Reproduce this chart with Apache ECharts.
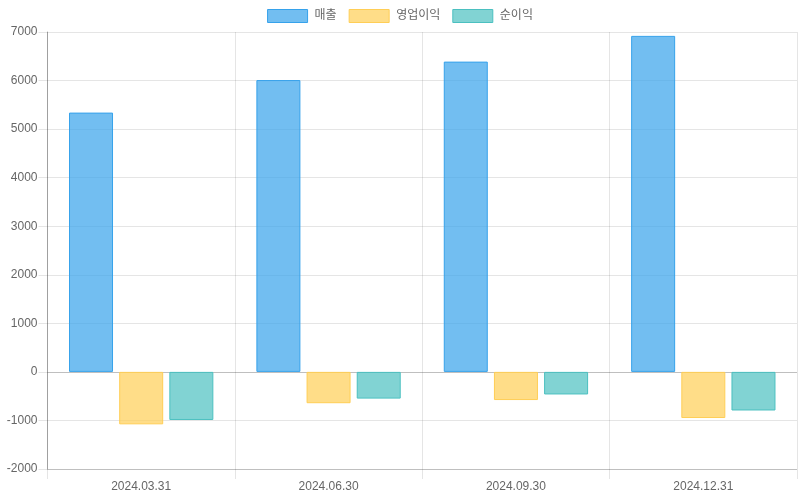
<!DOCTYPE html>
<html>
<head>
<meta charset="utf-8">
<script src="https://cdn.jsdelivr.net/npm/echarts@6/dist/echarts.min.js"></script>
<style>
    html, body { margin: 0; padding: 0; background: #fff; }
    #main { width: 800px; height: 500px; }
</style>
</head>
<body>
<div id="main"></div>
<script type="text/javascript">
    // 분기별 데이터
    var categories = ['2024.03.31', '2024.06.30', '2024.09.30', '2024.12.31'];
    var sales = [5340, 6010, 6390, 6920];
    var opProfit = [-1080, -645, -580, -950];
    var netProfit = [-990, -550, -465, -795];

    var seriesNames = ['매출', '영업이익', '순이익'];
    var fills = ['rgba(54,162,235,0.7)', 'rgba(255,206,86,0.7)', 'rgba(75,192,192,0.7)'];
    var borders = ['rgb(54,162,235)', 'rgb(255,206,86)', 'rgb(75,192,192)'];

    var font = '"Liberation Sans", "Noto Sans CJK KR", Arial, sans-serif';
    var myChart = echarts.init(document.getElementById('main'));

    function bar(i, data) {
        return {
            name: seriesNames[i],
            type: 'bar',
            data: data,
            barWidth: 44,
            barGap: '14%',
            itemStyle: { color: fills[i], borderColor: borders[i], borderWidth: 1 },
            emphasis: { disabled: true }
        };
    }

    // 0 과 -2000 선은 진하게
    var splitColors = ['rgba(0,0,0,0.25)', 'rgba(0,0,0,0.1)', 'rgba(0,0,0,0.25)'];
    for (var k = 0; k < 7; k++) splitColors.push('rgba(0,0,0,0.1)');

    var option = {
        animation: false,
        textStyle: { fontFamily: font },
        legend: {
            top: 9,
            left: 'center',
            padding: 0,
            itemWidth: 40,
            itemHeight: 13,
            itemGap: 12,
            icon: 'rect',
            itemStyle: { borderWidth: 1 },
            textStyle: { color: '#666', fontSize: 12, fontFamily: font, padding: [0, 0, 0, 2] },
            data: seriesNames
        },
        grid: {
            left: 47.5,
            right: 3,
            top: 32,
            bottom: 31,
            containLabel: false
        },
        xAxis: {
            type: 'category',
            data: categories,
            boundaryGap: true,
            axisLine: { onZero: false, show: false },
            axisTick: { show: true, length: 10, lineStyle: { color: 'rgba(0,0,0,0.1)' } },
            axisLabel: { color: '#666', fontSize: 12, margin: 12, fontFamily: font },
            splitLine: { show: true, lineStyle: { color: 'rgba(0,0,0,0.1)' } }
        },
        yAxis: {
            type: 'value',
            min: -2000,
            max: 7000,
            interval: 1000,
            axisLine: { show: true, lineStyle: { color: 'rgba(0,0,0,0.3)' } },
            axisTick: { show: true, length: 9, lineStyle: { color: 'rgba(0,0,0,0.1)' } },
            axisLabel: {
                color: '#666', fontSize: 12, margin: 10, fontFamily: font,
                formatter: function (v) { return String(v); }
            },
            splitLine: { show: true, lineStyle: { color: splitColors } }
        },
        series: [
            bar(0, sales),
            bar(1, opProfit),
            bar(2, netProfit)
        ]
    };

    myChart.setOption(option);
</script>
</body>
</html>
